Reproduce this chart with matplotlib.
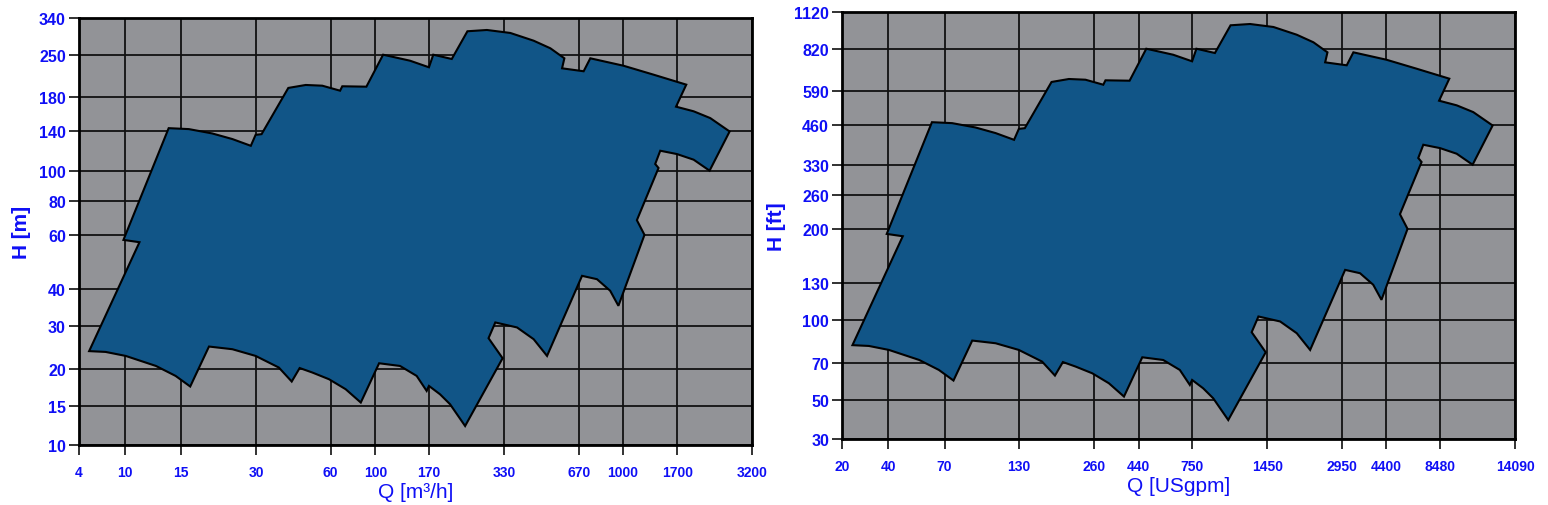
import numpy as np
import matplotlib.pyplot as plt
from matplotlib.ticker import FixedLocator, FixedFormatter, NullLocator

# grid values of the chart (metric) and the matching imperial labels
q_ticks = [4, 10, 15, 30, 60, 100, 170, 330, 670, 1000, 1700, 3200]
h_ticks = [10, 15, 20, 30, 40, 60, 80, 100, 140, 180, 250, 340]
q_labels_us = ['20', '40', '70', '130', '260', '440', '750', '1450', '2950', '4400', '8480', '14090']
h_labels_ft = ['30', '50', '70', '100', '130', '200', '260', '330', '460', '590', '820', '1120']

# envelope of the pump range, Q [m3/h] / H [m], clockwise from bottom left
q_env = [4.9, 11.1, 9.7, 13.7, 16.1, 20.0, 24.1, 28.6, 29.9, 31.6,
         40.5, 47.6, 55.5, 66.8, 68.5, 90.2, 107.9, 140.9, 170, 176.6,
         207.8, 238.5, 283.1, 349.3, 435.7, 510.5, 583, 570.4, 698.8, 742.7,
         1006, 1348, 1834, 1679, 1952, 2247, 2647, 2234, 1952, 1695,
         1440, 1371, 1416, 1147, 1235, 960.7, 890.8, 789.5, 688.7, 494.7,
         435.7, 372.2, 304.8, 287.2, 325, 233.7, 204.7, 187.4, 170, 166.2,
         150.5, 127.6, 103.7, 84.6, 71.2, 59.1, 50.6, 45.0, 41.8, 37.1,
         29.9, 24.1, 19.4, 16.3, 14.4, 12.5, 10.05, 6.8]
h_env = [23.6, 56.9, 57.9, 143.1, 142.1, 137.3, 131.0, 123.8, 135.7, 136.5,
         193.1, 197.6, 196.5, 189.0, 195.6, 195.0, 250, 238.6, 226.7, 250,
         241.8, 304.2, 307.5, 299.9, 281.1, 263.8, 243.1, 224.9, 219.8, 243.1,
         229.5, 214.1, 198.1, 167.6, 162.0, 154.1, 139.6, 100.5, 110.2, 115.5,
         118.8, 106.3, 102.8, 68.1, 60.15, 35.1, 39.5, 43.1, 44.2, 22.55,
         26.43, 29.55, 30.81, 26.69, 22.06, 12.18, 15.2, 16.41, 17.5, 16.84,
         18.9, 20.5, 21.03, 15.4, 17.06, 18.42, 19.4, 20.1, 18.1, 20.19,
         22.55, 24.03, 24.65, 17.42, 18.9, 20.5, 22.55, 23.42]

# where each grid line sits along the axis (fraction of axis length)
X_GRID = [0, 0.0684, 0.152, 0.263, 0.374, 0.4405, 0.520, 0.632, 0.743, 0.808, 0.889, 1]
Y_GRID = [0, 0.0914, 0.179, 0.279, 0.365, 0.4914, 0.571, 0.641, 0.735, 0.815, 0.914, 1]

BLUE_TXT = '#0f0ff5'
FILL = '#115587'
BG = '#929397'


def chart_scale(ticks, pos):
    lt = np.log10(ticks)

    def fwd(v):
        return np.interp(np.log10(np.clip(v, 1e-6, None)), lt, pos)

    def inv(p):
        return 10 ** np.interp(p, pos, lt)
    return fwd, inv


def draw_panel(ax, xlabels, ylabels, xname, yname):
    ax.set_xscale('function', functions=chart_scale(q_ticks, X_GRID))
    ax.set_yscale('function', functions=chart_scale(h_ticks, Y_GRID))
    ax.set_xlim(q_ticks[0], q_ticks[-1])
    ax.set_ylim(h_ticks[0], h_ticks[-1])
    ax.set_facecolor(BG)

    ax.fill(q_env, h_env, facecolor=FILL, edgecolor='black', lw=1.5, zorder=3)

    ax.xaxis.set_major_locator(FixedLocator(q_ticks))
    ax.xaxis.set_major_formatter(FixedFormatter(xlabels))
    ax.yaxis.set_major_locator(FixedLocator(h_ticks))
    ax.yaxis.set_major_formatter(FixedFormatter(ylabels))
    ax.xaxis.set_minor_locator(NullLocator())
    ax.yaxis.set_minor_locator(NullLocator())
    ax.grid(True, color='#111111', lw=1.3, zorder=1)
    ax.set_axisbelow(True)

    ax.tick_params(axis='both', direction='out', length=7.5, width=1.3, color='#222222',
                   labelcolor=BLUE_TXT)
    ax.tick_params(axis='x', pad=7)
    ax.tick_params(axis='y', pad=2)
    for lab in ax.get_xticklabels():
        lab.set_fontsize(10)
        lab.set_fontweight('bold')
    for lab in ax.get_yticklabels():
        lab.set_fontsize(11.5)
        lab.set_fontweight('bold')
    for sp in ax.spines.values():
        sp.set_linewidth(2)
        sp.set_zorder(5)

    ax.set_xlabel(xname, fontsize=15, color=BLUE_TXT, labelpad=2)
    ax.set_ylabel(yname, fontsize=15, color=BLUE_TXT, fontweight='bold', labelpad=6)


plt.rcParams['font.family'] = ['Liberation Sans', 'DejaVu Sans']

fig = plt.figure(figsize=(15.48, 5.06), dpi=100)
ax1 = fig.add_axes([0.0510, 0.1186, 0.4348, 0.8439])
ax2 = fig.add_axes([0.5441, 0.1304, 0.4346, 0.8439])

draw_panel(ax1, [str(v) for v in q_ticks], [str(v) for v in h_ticks], 'Q [m³/h]', 'H [m]')
draw_panel(ax2, q_labels_us, h_labels_ft, 'Q [USgpm]', 'H [ft]')

fig.savefig('out.png', dpi=100)
